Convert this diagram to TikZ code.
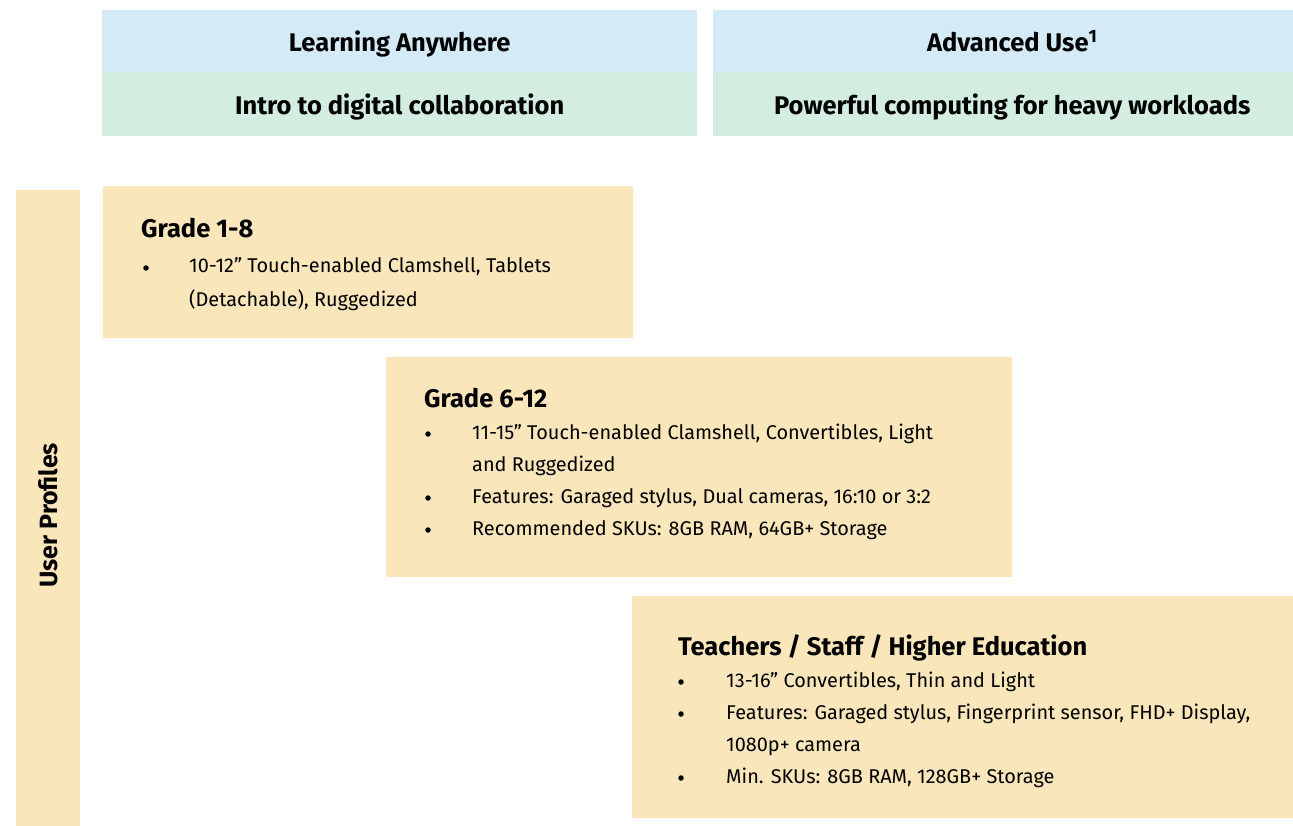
\documentclass[tikz,border=0pt]{standalone}
\usepackage{fontspec}
\setmainfont{Fira Sans}
\usepackage{tikz}
\usetikzlibrary{positioning}
\definecolor{headblue}{RGB}{212,235,247}
\definecolor{headgreen}{RGB}{211,238,224}
\definecolor{profiletan}{RGB}{249,231,187}

\begin{document}
\begin{tikzpicture}[x=1pt,y=-1pt]
\tikzstyle{head}=[rectangle, inner sep=0, text depth=0pt, anchor=north west, font=\bfseries\fontsize{25.5}{30}\selectfont]
\tikzstyle{profile}=[rectangle, fill=profiletan, inner sep=0, anchor=north west]
\tikzstyle{title}=[anchor=base west, inner sep=0, font=\bfseries\fontsize{25.5}{30}\selectfont]
\tikzstyle{item}=[anchor=base west, inner sep=0, font=\fontsize{19.9}{24}\selectfont]
\tikzstyle{dot}=[circle, fill=black, inner sep=0, minimum size=5.5pt]
\useasboundingbox (0,0) rectangle (1293,826);

% column headers
\node[head, fill=headblue, minimum width=595, minimum height=62] (learn) at (102,10) {Learning Anywhere};
\node[head, fill=headgreen, minimum width=595, minimum height=64] (intro) at (102,72) {Intro to digital collaboration};
\node[head, fill=headblue, minimum width=598, minimum height=62] (adv) at (713,10) {Advanced Use\textsuperscript{1}};
\node[head, fill=headgreen, minimum width=598, minimum height=64] (power) at (713,72) {Powerful computing for heavy workloads};

% side bar
\node[profile, minimum width=64, minimum height=650] (users) at (16,190) {};
\node[rotate=90, font=\bfseries\fontsize{25}{30}\selectfont] (userslabel) at (users.center) {User Profiles};

% Grade 1-8
\node[profile, minimum width=530, minimum height=152] (g18) at (103,186) {};
\node[title] (g18title) at (141,238) {Grade 1-8};
\node[dot] (g18b1) at (146,268) {};
\node[item] (g18i1) at (189,273) {10-12” Touch-enabled Clamshell, Tablets};
\node[item] (g18i1b) at (189,307) {(Detachable), Ruggedized};

% Grade 6-12
\node[profile, minimum width=626, minimum height=220] (g612) at (386,357) {};
\node[title] (g612title) at (424,407) {Grade 6-12};
\node[dot] (g612b1) at (428,434) {};
\node[item] (g612i1) at (472,439) {11-15” Touch-enabled Clamshell, Convertibles, Light};
\node[item] (g612i1b) at (472,471) {and Ruggedized};
\node[dot] (g612b2) at (428,498) {};
\node[item] (g612i2) at (472,503) {Features: Garaged stylus, Dual cameras, 16:10 or 3:2};
\node[dot] (g612b3) at (428,530) {};
\node[item] (g612i3) at (472,535) {Recommended SKUs: 8GB RAM, 64GB+ Storage};

% Teachers / Staff
\node[profile, minimum width=680, minimum height=222] (staff) at (632,596) {};
\node[title] (stafftitle) at (678,655) {Teachers / Staff / Higher Education};
\node[dot] (staffb1) at (681,682) {};
\node[item] (staffi1) at (726,687) {13-16” Convertibles, Thin and Light};
\node[dot] (staffb2) at (681,714) {};
\node[item] (staffi2) at (726,719) {Features: Garaged stylus, Fingerprint sensor, FHD+ Display,};
\node[item] (staffi2b) at (726,751) {1080p+ camera};
\node[dot] (staffb3) at (681,778) {};
\node[item] (staffi3) at (726,783) {Min. SKUs: 8GB RAM, 128GB+ Storage};
\end{tikzpicture}
\end{document}
